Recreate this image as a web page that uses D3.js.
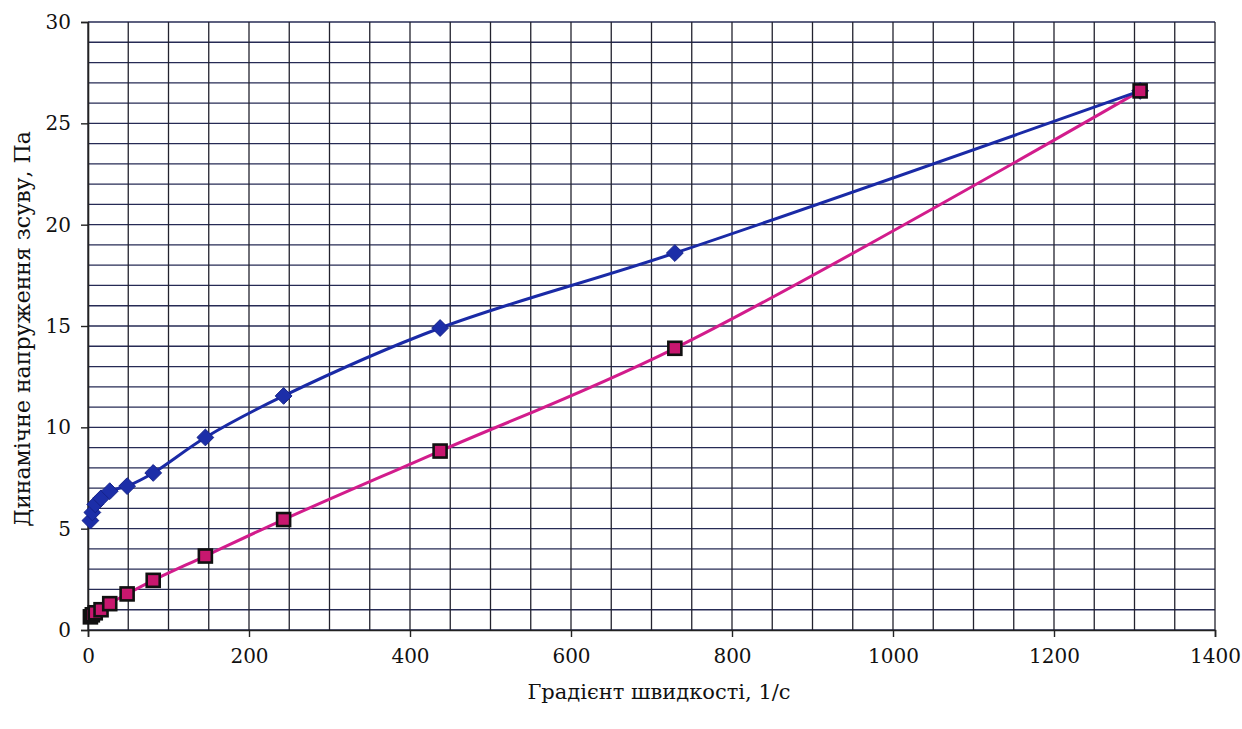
<!DOCTYPE html>
<html>
  <head>
    <style>
    body { margin: 0; background: #fff; }
    svg { display: block; }
    </style>
    <script src="https://d3js.org/d3.v7.min.js"></script>
  </head>
  <body>
    <script type="text/javascript">
    // shear rate, 1/s
    var shearRate = [3, 5.4, 9, 16.2, 27, 48.6, 81, 145.8, 243, 437.4, 729, 1307];
    // dynamic shear stress, Pa
    var stressBlue = [5.4, 5.8, 6.2, 6.5, 6.85, 7.1, 7.75, 9.5, 11.55, 14.9, 18.6, 26.6];
    var stressPink = [0.65, 0.75, 0.85, 1.0, 1.3, 1.78, 2.45, 3.65, 5.45, 8.83, 13.9, 26.6];
    var xTicks = [0, 200, 400, 600, 800, 1000, 1200, 1400];
    var yTicks = [0, 5, 10, 15, 20, 25, 30];

    var serif = "'DejaVu Serif', serif";

    var margin = {top: 22, right: 27, bottom: 99, left: 88},
    width = 1242 - margin.left - margin.right,
    height = 729 - margin.top - margin.bottom;

    var svg = d3.select("body")
      .append("svg")
      .attr("width", 1242)
      .attr("height", 729);

    var g = svg.append("g")
      .attr("transform", "translate(" + margin.left + "," + margin.top + ")");

    var xScale = d3.scaleLinear().domain([0, 1400]).range([0, width]);
    var yScale = d3.scaleLinear().domain([0, 30]).range([height, 0]);

    // grid: every 50 on x, every 1 on y
    g.append("g")
      .selectAll("line")
      .data(d3.range(0, 31, 1))
      .enter().append("line")
      .attr("x1", 0).attr("x2", width)
      .attr("y1", function(d) { return yScale(d); })
      .attr("y2", function(d) { return yScale(d); })
      .attr("stroke", "#262b55")
      .attr("stroke-width", 1.3);

    g.append("g")
      .selectAll("line")
      .data(d3.range(0, 1401, 50))
      .enter().append("line")
      .attr("y1", 0).attr("y2", height)
      .attr("x1", function(d) { return xScale(d); })
      .attr("x2", function(d) { return xScale(d); })
      .attr("stroke", "#22222e")
      .attr("stroke-width", 1.3);

    // axes
    var xAxis = g.append("g")
      .attr("transform", "translate(0," + height + ")")
      .call(d3.axisBottom(xScale).tickValues(xTicks).tickFormat(d3.format("d")).tickSize(7).tickPadding(8));
    var yAxis = g.append("g")
      .call(d3.axisLeft(yScale).tickValues(yTicks).tickFormat(d3.format("d")).tickSize(7).tickPadding(10));

    [xAxis, yAxis].forEach(function(a) {
      a.attr("font-family", serif).attr("font-size", 20);
      a.select(".domain").attr("stroke", "#222").attr("stroke-width", 1.6);
      a.selectAll(".tick line").attr("stroke", "#222").attr("stroke-width", 1.4);
      a.selectAll("text").style("font-family", serif).style("font-size", "20px").attr("fill", "#111");
    });
    xAxis.selectAll("text").attr("dy", "0.9em");
    yAxis.selectAll("text").attr("dy", "0.33em");

    var blueData = shearRate.map(function(x, i) { return {x: x, y: stressBlue[i]}; });
    var pinkData = shearRate.map(function(x, i) { return {x: x, y: stressPink[i]}; });

    var line = d3.line()
      .x(function(d) { return xScale(d.x); })
      .y(function(d) { return yScale(d.y); })
      .curve(d3.curveCatmullRom.alpha(0.5));

    g.append("path").datum(pinkData)
      .attr("d", line)
      .attr("fill", "none")
      .attr("stroke", "#d21c8c")
      .attr("stroke-width", 3);

    g.append("path").datum(blueData)
      .attr("d", line)
      .attr("fill", "none")
      .attr("stroke", "#1a2aa6")
      .attr("stroke-width", 3);

    // blue diamonds
    g.selectAll(".dia")
      .data(blueData)
      .enter().append("path")
      .attr("class", "dia")
      .attr("transform", function(d) { return "translate(" + xScale(d.x) + "," + yScale(d.y) + ")"; })
      .attr("d", d3.symbol().type(d3.symbolDiamond2).size(180))
      .attr("fill", "#1c2ea8")
      .attr("stroke", "#16238a")
      .attr("stroke-width", 1);

    // pink squares
    g.selectAll(".sq")
      .data(pinkData)
      .enter().append("rect")
      .attr("class", "sq")
      .attr("x", function(d) { return xScale(d.x) - 6.5; })
      .attr("y", function(d) { return yScale(d.y) - 6.5; })
      .attr("width", 13)
      .attr("height", 13)
      .attr("fill", "#c8176f")
      .attr("stroke", "#111")
      .attr("stroke-width", 2.6);

    // axis titles
    svg.append("text")
      .attr("x", 659)
      .attr("y", 699)
      .attr("text-anchor", "middle")
      .style("font-family", serif)
      .style("font-size", "21px")
      .attr("fill", "#111")
      .text("Градієнт швидкості, 1/с");

    svg.append("text")
      .attr("transform", "translate(30,329) rotate(-90)")
      .attr("text-anchor", "middle")
      .style("font-family", serif)
      .style("font-size", "22px")
      .attr("fill", "#111")
      .text("Динамічне напруження зсуву, Па");
    </script>
  </body>
</html>
